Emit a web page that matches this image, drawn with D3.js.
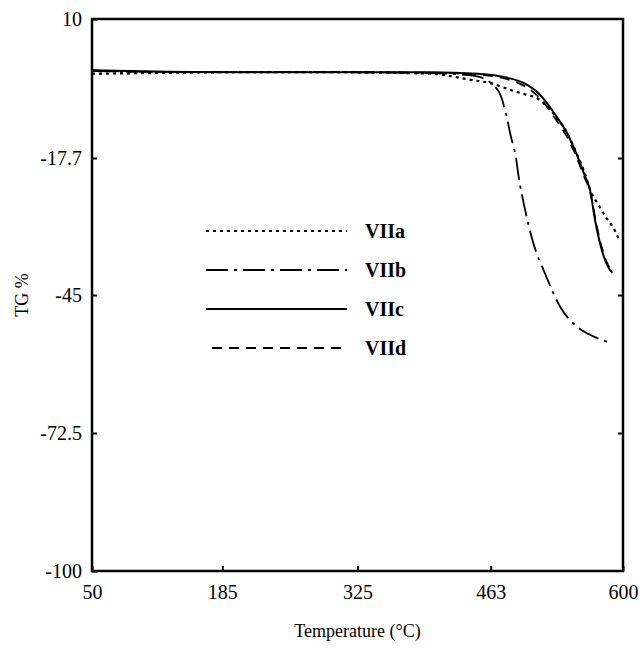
<!DOCTYPE html>
<html>
<head>
<meta charset="utf-8">
<script src="https://cdn.jsdelivr.net/npm/d3@7"></script>
<style>
  body { margin: 0; background: #fff; }
  text { font-family: "Liberation Serif", "DejaVu Serif", serif; }
</style>
</head>
<body>
<svg id="chart" width="644" height="648"></svg>
<script>
var xTicks = [50, 185, 325, 463, 600];
var yTicks = [10, -17.7, -45, -72.5, -100];

// temperature (°C), TG %
var viia = [[50, -0.9], [100, -0.8], [200, -0.6], [300, -0.6], [400, -0.9], [445, -2.2], [462, -2.75],
  [483, -4.1], [493, -4.7], [502, -5.2], [512, -5.9], [522, -7.6], [532, -9.8], [542, -12.7],
  [552, -16.8], [560, -20.5], [566, -24], [576, -27.5], [584, -30], [590, -31.6], [596, -34]];
var viib = [[50, -0.4], [100, -0.5], [200, -0.6], [300, -0.6], [400, -0.8], [440, -1.2], [455, -1.8],
  [464, -2.9], [474, -5.6], [479, -9.1], [484, -13.5], [489, -17.5], [492, -21.5], [498, -27.5],
  [507, -34.6], [519, -40.6], [535, -47.4], [553, -51.4], [570, -53.3], [588, -54.6]];
var viic = [[50, -0.2], [100, -0.4], [200, -0.6], [300, -0.6], [400, -0.6], [450, -0.9], [480, -1.7],
  [497, -2.75], [514, -5.1], [531, -9.4], [542, -12.7], [552, -17], [560, -21], [566, -24.2],
  [571, -30], [578, -36], [584, -39.2], [589, -40.6]];
var viid = [[50, -0.3], [100, -0.5], [200, -0.6], [300, -0.6], [400, -0.7], [450, -1.1], [480, -2.0],
  [500, -3.6], [515, -6.0], [530, -9.9], [542, -13.5], [552, -17.6], [560, -21.5], [566, -24.5],
  [572, -30.5], [578, -35.5], [584, -38.8], [588, -40]];

var series = [
  {name: "VIIa", values: viia, dash: "3,4", width: 2.2},
  {name: "VIIb", values: viib, dash: "22,6,3,6", width: 1.8},
  {name: "VIIc", values: viic, dash: null, width: 2},
  {name: "VIId", values: viid, dash: "10,7", width: 1.8}
];

var margin = {top: 19, right: 21, bottom: 77, left: 92},
    width = 644 - margin.left - margin.right,
    height = 648 - margin.top - margin.bottom;

var x = d3.scaleLinear().domain([50, 600]).range([0, width]);
var y = d3.scaleLinear().domain([-100, 10]).range([height, 0]);

var svg = d3.select("#chart").append("g")
    .attr("transform", "translate(" + margin.left + "," + margin.top + ")");

var line = d3.line()
    .curve(d3.curveMonotoneX)
    .x(function(d) { return x(d[0]); })
    .y(function(d) { return y(d[1]); });

svg.selectAll(".curve")
    .data(series)
  .enter().append("path")
    .attr("class", "curve")
    .attr("d", function(d) { return line(d.values); })
    .attr("fill", "none")
    .attr("stroke", "#000")
    .attr("stroke-width", function(d) { return d.width; })
    .attr("stroke-dasharray", function(d) { return d.dash; });

// frame
svg.append("rect")
    .attr("width", width)
    .attr("height", height)
    .attr("fill", "none")
    .attr("stroke", "#000")
    .attr("stroke-width", 2.5);

// axes, ticks pointing inward
svg.append("g")
    .attr("transform", "translate(0," + height + ")")
    .call(d3.axisBottom(x).tickValues(xTicks).tickSize(-5).tickPadding(14)
      .tickFormat(d3.format("d")));

svg.append("g")
    .call(d3.axisLeft(y).tickValues(yTicks).tickSize(-5).tickPadding(10)
      .tickFormat(function(d) { return d; }));

svg.append("g")
    .attr("transform", "translate(" + width + ",0)")
    .call(d3.axisRight(y).tickValues(yTicks.slice(1, 4)).tickSize(-5).tickFormat(""));

svg.selectAll(".domain").remove();
svg.selectAll(".tick line").attr("stroke", "#000").attr("stroke-width", 2);
svg.selectAll(".tick text")
    .attr("fill", "#000")
    .style("font-family", "'Liberation Serif', serif")
    .style("font-size", "20px");

// axis titles
svg.append("text")
    .attr("x", width / 2)
    .attr("y", height + 66)
    .attr("text-anchor", "middle")
    .style("font-size", "18px")
    .text("Temperature (°C)");

svg.append("text")
    .attr("transform", "translate(" + (-64) + "," + (height / 2) + ") rotate(-90)")
    .attr("text-anchor", "middle")
    .style("font-size", "18px")
    .text("TG %");

// legend
var legend = svg.selectAll(".legend")
    .data(series)
  .enter().append("g")
    .attr("class", "legend")
    .attr("transform", function(d, i) { return "translate(0," + (212 + i * 39) + ")"; });

legend.append("line")
    .attr("x1", function(d, i) { return i === 3 ? 120 : 114; })
    .attr("x2", function(d, i) { return i === 3 ? 250 : 255; })
    .attr("stroke", "#000")
    .attr("stroke-width", function(d) { return d.width; })
    .attr("stroke-dasharray", function(d) { return d.dash; });

legend.append("text")
    .attr("x", 273)
    .attr("dy", "0.35em")
    .style("font-size", "20px")
    .style("font-weight", "bold")
    .text(function(d) { return d.name; });
</script>
</body>
</html>
